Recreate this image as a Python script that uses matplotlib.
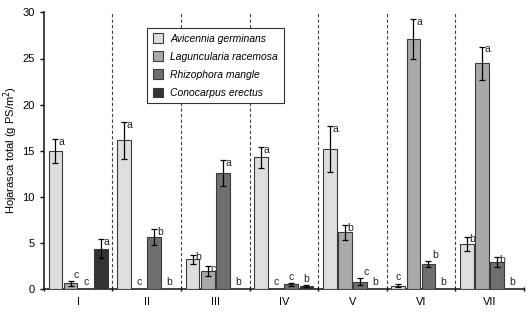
import numpy as np
import matplotlib
matplotlib.use('Agg')
import matplotlib.pyplot as plt

plt.rcParams['font.family'] = ['Liberation Sans', 'DejaVu Sans']

# datos
sitios = ['I', 'II', 'III', 'IV', 'V', 'VI', 'VII']
especies = ['Avicennia germinans', 'Laguncularia racemosa',
            'Rhizophora mangle', 'Conocarpus erectus']

avicennia = [14.9, 16.1, 3.2, 14.25, 15.15, 0.33, 4.85]
avicennia_err = [1.3, 2.0, 0.5, 1.1, 2.5, 0.2, 0.8]
avicennia_let = ['a', 'a', 'b', 'a', 'a', 'c', 'b']

laguncularia = [0.58, 0.0, 1.87, 0.0, 6.1, 27.1, 24.5]
laguncularia_err = [0.3, 0.0, 0.55, 0.0, 0.8, 2.2, 1.8]
laguncularia_let = ['c', 'c', 'c', 'c', 'b', 'a', 'a']

rhizophora = [0.0, 5.63, 12.57, 0.45, 0.77, 2.7, 2.9]
rhizophora_err = [0.0, 0.85, 1.4, 0.15, 0.4, 0.35, 0.5]
rhizophora_let = ['c', 'b', 'a', 'c', 'c', 'b', 'b']

conocarpus = [4.35, 0.0, 0.0, 0.28, 0.0, 0.0, 0.0]
conocarpus_err = [1.05, 0.0, 0.0, 0.1, 0.0, 0.0, 0.0]
conocarpus_let = ['a', 'b', 'b', 'b', 'b', 'b', 'b']

valores = [avicennia, laguncularia, rhizophora, conocarpus]
errores = [avicennia_err, laguncularia_err, rhizophora_err, conocarpus_err]
letras = [avicennia_let, laguncularia_let, rhizophora_let, conocarpus_let]
colores = ['#dedede', '#a9a9a9', '#6f6f6f', '#333333']

fig = plt.figure(figsize=(5.28, 3.12), dpi=100)
ax = fig.add_axes([0.083, 0.075, 0.909, 0.885])

x = np.arange(len(sitios)) + 0.5
offsets = [-0.33, -0.11, 0.11, 0.33]
ancho = 0.2

for i in range(4):
    xs = x + offsets[i]
    ax.bar(xs, valores[i], width=ancho, color=colores[i], edgecolor='#3a3a3a',
           linewidth=0.8, label=especies[i], zorder=3)
    v = np.array(valores[i])
    e = np.array(errores[i])
    m = e > 0
    ax.errorbar(xs[m], v[m], yerr=e[m], fmt='none', ecolor='black',
                elinewidth=0.9, capsize=2.4, capthick=0.9, zorder=4)
    # letras de significancia
    for xx, vv, ee, lt in zip(xs, v, e, letras[i]):
        if ee > 0.45:
            ax.text(xx + 0.04, vv + ee - 0.3, lt, fontsize=7.5, ha='left',
                    va='center', color='#222222')
        elif ee > 0.25:
            ax.text(xx + 0.05, vv + ee + 0.05, lt, fontsize=7.5, ha='left',
                    va='bottom', color='#222222')
        else:
            ax.text(xx, vv + ee + 0.15, lt, fontsize=7.5, ha='center',
                    va='bottom', color='#222222')

# separadores de sitios
for b in range(1, len(sitios)):
    ax.axvline(b, ymin=0, ymax=1, color='#444444', linestyle=(0, (3, 2)),
               linewidth=0.8, zorder=1)

ax.set_xlim(0, 7)
ax.set_ylim(0, 30)
ax.set_yticks(np.arange(0, 31, 5))
ax.set_xticks(np.arange(0, 8))
ax.set_xticklabels([])
ax.set_xticks(x, minor=True)
ax.set_xticklabels(sitios, minor=True)
ax.tick_params(axis='x', which='minor', length=0, labelsize=8, pad=6)
ax.tick_params(axis='x', which='major', length=3, direction='inout', width=1)
ax.tick_params(axis='y', length=3, direction='out', labelsize=8, width=1)

ax.spines['top'].set_visible(False)
ax.spines['right'].set_visible(False)
ax.spines['left'].set_linewidth(1.2)
ax.spines['bottom'].set_linewidth(1.2)
ax.spines['left'].set_color('#222222')
ax.spines['bottom'].set_color('#222222')

ax.set_ylabel('Hojarasca total (g PS/m$^2$)', fontsize=8, labelpad=2)

leg = ax.legend(loc='upper left', bbox_to_anchor=(0.215, 0.945),
                borderaxespad=0, prop={'style': 'italic', 'size': 7.5},
                fancybox=False, framealpha=1, edgecolor='#333333',
                handlelength=1.0, handleheight=1.0, labelspacing=0.75,
                borderpad=0.55, handletextpad=0.7)
leg.get_frame().set_linewidth(0.8)

plt.savefig('out.png', dpi=100)
